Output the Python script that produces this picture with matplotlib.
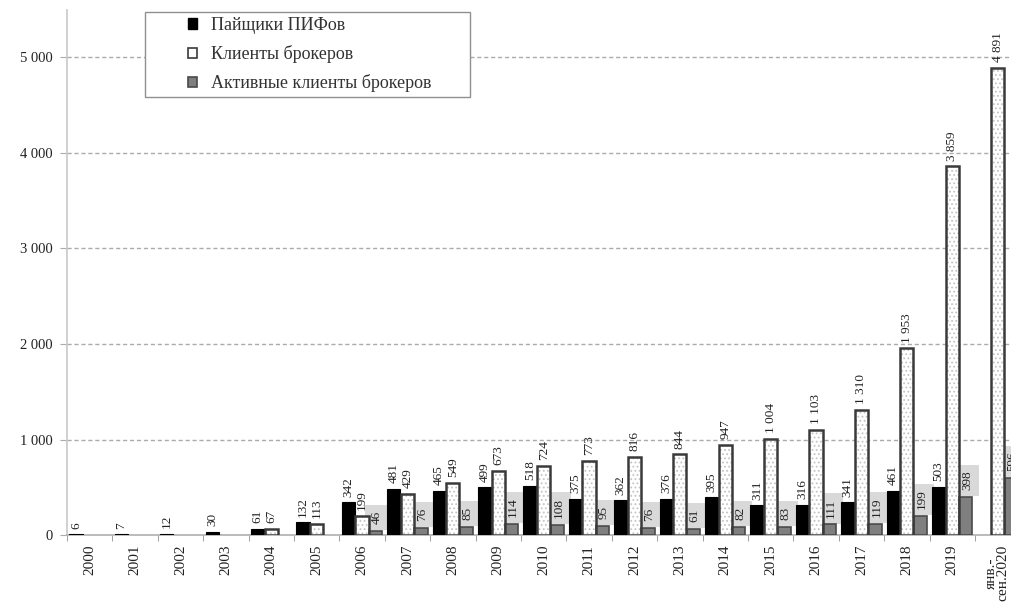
import numpy as np
import matplotlib
matplotlib.use("Agg")
import matplotlib.pyplot as plt
from matplotlib.patches import Patch, Rectangle

# Categories (years) and series values, thousands of people
years = ["2000", "2001", "2002", "2003", "2004", "2005", "2006", "2007", "2008",
         "2009", "2010", "2011", "2012", "2013", "2014", "2015", "2016", "2017",
         "2018", "2019", "янв.-\nсен.2020"]
pif_holders = [6, 7, 12, 30, 61, 132, 342, 481, 465, 499, 518, 375, 362, 376,
               395, 311, 316, 341, 461, 503, None]
broker_clients = [None, None, None, None, 67, 113, 199, 429, 549, 673, 724, 773,
                  816, 844, 947, 1004, 1103, 1310, 1953, 3859, 4891]
active_clients = [None, None, None, None, None, None, 46, 76, 85, 114, 108, 95,
                  76, 61, 82, 83, 111, 119, 199, 398, 596]
y_ticks = [0, 1000, 2000, 3000, 4000, 5000]

series_names = ["Пайщики ПИФов", "Клиенты брокеров", "Активные клиенты брокеров"]

plt.rcParams["font.family"] = ["Liberation Serif", "DejaVu Serif"]
plt.rcParams["hatch.linewidth"] = 0.8


def fmt(v):
    return f"{int(v):,}".replace(",", " ")


fig = plt.figure(figsize=(10.12, 6.09), dpi=100)
ax = fig.add_axes([0.0662, 0.1215, 0.942, 0.8625])

x = np.arange(len(years))
w = 0.29
off = 0.30

pif = np.array([np.nan if v is None else v for v in pif_holders], float)
brk = np.array([np.nan if v is None else v for v in broker_clients], float)
act = np.array([np.nan if v is None else v for v in active_clients], float)

# PIF holders: solid black
ax.bar(x - off, pif, w, color="black", edgecolor="black", linewidth=0.8, zorder=3)
# Broker clients: white with dotted fill and dark outline
ax.bar(x, brk, w, color="white", edgecolor="#c4c4c4", hatch="....",
       linewidth=0, zorder=3)
ax.bar(x, brk, w, fill=False, edgecolor="#3a3a3a", linewidth=1.8, zorder=4)
# Active broker clients: grey
ax.bar(x + off, act, w, color="#7f7f7f", edgecolor="#4a4a4a", linewidth=1.2,
       zorder=3)

lab_kw = dict(rotation=90, ha="center", va="bottom", fontsize=9.5)
for i in range(len(years)):
    if not np.isnan(pif[i]):
        ax.text(x[i] - off, pif[i] + 60, fmt(pif[i]), zorder=6,
                color="#222222", **lab_kw)
    if not np.isnan(brk[i]):
        ax.text(x[i], brk[i] + 60, fmt(brk[i]), zorder=6,
                color="#222222", **lab_kw)
    if not np.isnan(act[i]):
        # shaded label box sits behind the bars, the number itself on top
        ax.text(x[i] + off + 0.03, act[i] + 70, fmt(act[i]), zorder=2.5,
                color="none",
                bbox=dict(boxstyle="square,pad=0.45", facecolor="#d9d9d9",
                          edgecolor="none"), **lab_kw)
        ax.text(x[i] + off + 0.03, act[i] + 70, fmt(act[i]), zorder=6,
                color="#222222", **lab_kw)

ax.set_xlim(-0.5, len(years) - 0.5)
ax.set_ylim(0, 5500)
ax.set_yticks(y_ticks)
ax.set_yticklabels([fmt(v) for v in y_ticks], fontsize=10.5, color="#222222")
ax.yaxis.grid(True, linestyle=(0, (3, 2)), color="#ababab", linewidth=1.0,
              zorder=0)
ax.set_axisbelow(True)

ax.set_xticks(x)
ax.set_xticklabels(years, rotation=90, fontsize=11, color="#222222",
                   linespacing=0.85)
ax.tick_params(axis="x", length=0, pad=7)
ax.set_xticks(np.arange(-0.5, len(years), 1.0), minor=True)
ax.tick_params(axis="x", which="minor", length=4, color="#909090")
ax.tick_params(axis="y", length=5, color="#ababab", pad=5)

for s in ["top", "right"]:
    ax.spines[s].set_visible(False)
ax.spines["left"].set_color("#c8c8c8")
ax.spines["bottom"].set_color("#b0b0b0")
ax.spines["left"].set_linewidth(1.2)
ax.spines["bottom"].set_linewidth(1.2)

# Legend: frame drawn as a separate box so the entries keep a wide left margin
fig.add_artist(Rectangle((145 / 1012, 1 - 97 / 609), 325 / 1012, 85 / 609,
                         transform=fig.transFigure, facecolor="white",
                         edgecolor="#909090", linewidth=1.0, zorder=9))
handles = [
    Patch(facecolor="black", edgecolor="black"),
    Patch(facecolor="white", edgecolor="#3a3a3a", linewidth=1.2),
    Patch(facecolor="#7f7f7f", edgecolor="#4a4a4a", linewidth=1.2),
]
leg = fig.legend(handles, series_names, loc="upper left",
                 bbox_to_anchor=(188 / 1012, 1 - 17 / 609), fontsize=13,
                 frameon=False, handlelength=0.5, handleheight=0.5,
                 handletextpad=0.8, borderpad=0, labelspacing=0.62,
                 borderaxespad=0)
for t in leg.get_texts():
    t.set_color("#333333")
leg.set_zorder(10)

fig.savefig("out.png", dpi=100)
